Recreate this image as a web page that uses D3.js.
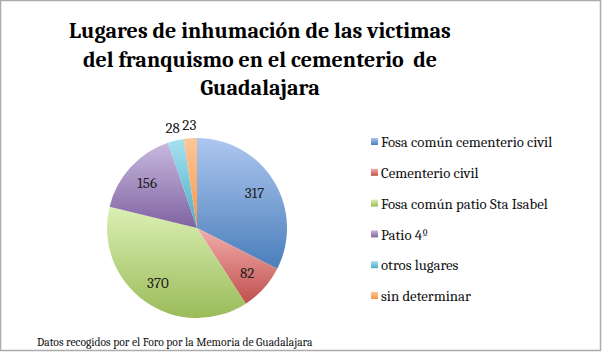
<!DOCTYPE html>
<html>
<head>
<meta charset="utf-8">
<script src="https://cdn.jsdelivr.net/npm/d3@7"></script>
<style>
  body { margin: 0; background: #fff; }
  svg { display: block; }
</style>
</head>
<body>
<svg></svg>
<script>
// data
let categories = ['Fosa común cementerio civil', 'Cementerio civil', 'Fosa común patio Sta Isabel', 'Patio 4º', 'otros lugares', 'sin determinar']
let values = [317, 82, 370, 156, 28, 23]
let titleLines = ['Lugares de inhumación de las victimas', 'del franquismo en el cementerio  de', 'Guadalajara']
let footer = 'Datos recogidos por el Foro por la Memoria de Guadalajara'

// light top / dark bottom of each slice gradient
let lightColors = ['#adc7ef', '#f2aeac', '#dbf0b4', '#c8b8de', '#a6e1f0', '#fcc79a']
let darkColors = ['#4a7ebb', '#c0504d', '#9bbb59', '#7f63a1', '#4bacc6', '#f79646']

let width = 602
let height = 352
let cx = 197
let cy = 228
let radius = 90
let serif = 'Cambria, "Liberation Serif", "DejaVu Serif", serif'

let svg = d3.select('svg').attr('width', width).attr('height', height)

// frame
svg.append('rect')
   .attr('x', 0.5).attr('y', 0.5)
   .attr('width', width - 2).attr('height', height - 2)
   .attr('fill', '#fff')
   .attr('stroke', '#ababab')
   .attr('stroke-width', 1.5)

// gradients, one per slice, light at its top and dark at its bottom
let defs = svg.append('defs')
categories.forEach((c, i) => {
    let g = defs.append('linearGradient')
                .attr('id', 'grad' + i)
                .attr('x1', 0).attr('y1', 0)
                .attr('x2', 0).attr('y2', 1)
    g.append('stop').attr('offset', '0%').attr('stop-color', lightColors[i])
    g.append('stop').attr('offset', '100%').attr('stop-color', darkColors[i])
})

// title (keeps the double space of the original)
svg.append('text')
   .attr('text-anchor', 'middle')
   .attr('font-family', serif)
   .attr('font-weight', 'bold')
   .attr('font-size', 22)
   .attr('fill', '#000')
   .style('white-space', 'pre')
   .selectAll('tspan')
   .data(titleLines)
   .enter()
   .append('tspan')
   .attr('x', 260)
   .attr('y', (d, i) => 38 + i * 28.5)
   .text(d => d)

// pie
let pie = d3.pie().sort(null)
let arc = d3.arc().innerRadius(0).outerRadius(radius)
let arcs = pie(values)

let chart = svg.append('g').attr('transform', 'translate(' + cx + ',' + cy + ')')

chart.selectAll('path')
     .data(arcs)
     .enter()
     .append('path')
     .attr('d', arc)
     .attr('fill', (d, i) => 'url(#grad' + i + ')')

// labels: big slices inside, small ones outside
let inner = d3.arc().innerRadius(radius * 0.75).outerRadius(radius * 0.75)
let outer = d3.arc().innerRadius(radius * 1.15).outerRadius(radius * 1.15)

chart.selectAll('.lbl')
     .data(arcs)
     .enter()
     .append('text')
     .attr('class', 'lbl')
     .attr('transform', d => {
         let p = (d.value < 50 ? outer : inner).centroid(d)
         return 'translate(' + p[0] + ',' + p[1] + ')'
     })
     .attr('dy', '0.35em')
     .attr('text-anchor', 'middle')
     .attr('font-family', serif)
     .attr('font-size', 15)
     .attr('fill', '#222')
     .text(d => d.value)

// legend
let legend = svg.append('g')
let rows = legend.selectAll('g')
                 .data(categories)
                 .enter()
                 .append('g')
                 .attr('transform', (d, i) => 'translate(371,' + (142 + i * 30.8) + ')')

rows.append('rect')
    .attr('x', 0).attr('y', -4)
    .attr('width', 7).attr('height', 7)
    .attr('fill', (d, i) => 'url(#grad' + i + ')')

rows.append('text')
    .attr('x', 10)
    .attr('y', 0)
    .attr('dy', '0.35em')
    .attr('font-family', serif)
    .attr('font-size', 14.8)
    .attr('fill', '#111')
    .text(d => d)

// source note
svg.append('text')
   .attr('x', 37)
   .attr('y', 346)
   .attr('font-family', serif)
   .attr('font-size', 11.6)
   .attr('fill', '#111')
   .text(footer)
</script>
</body>
</html>
